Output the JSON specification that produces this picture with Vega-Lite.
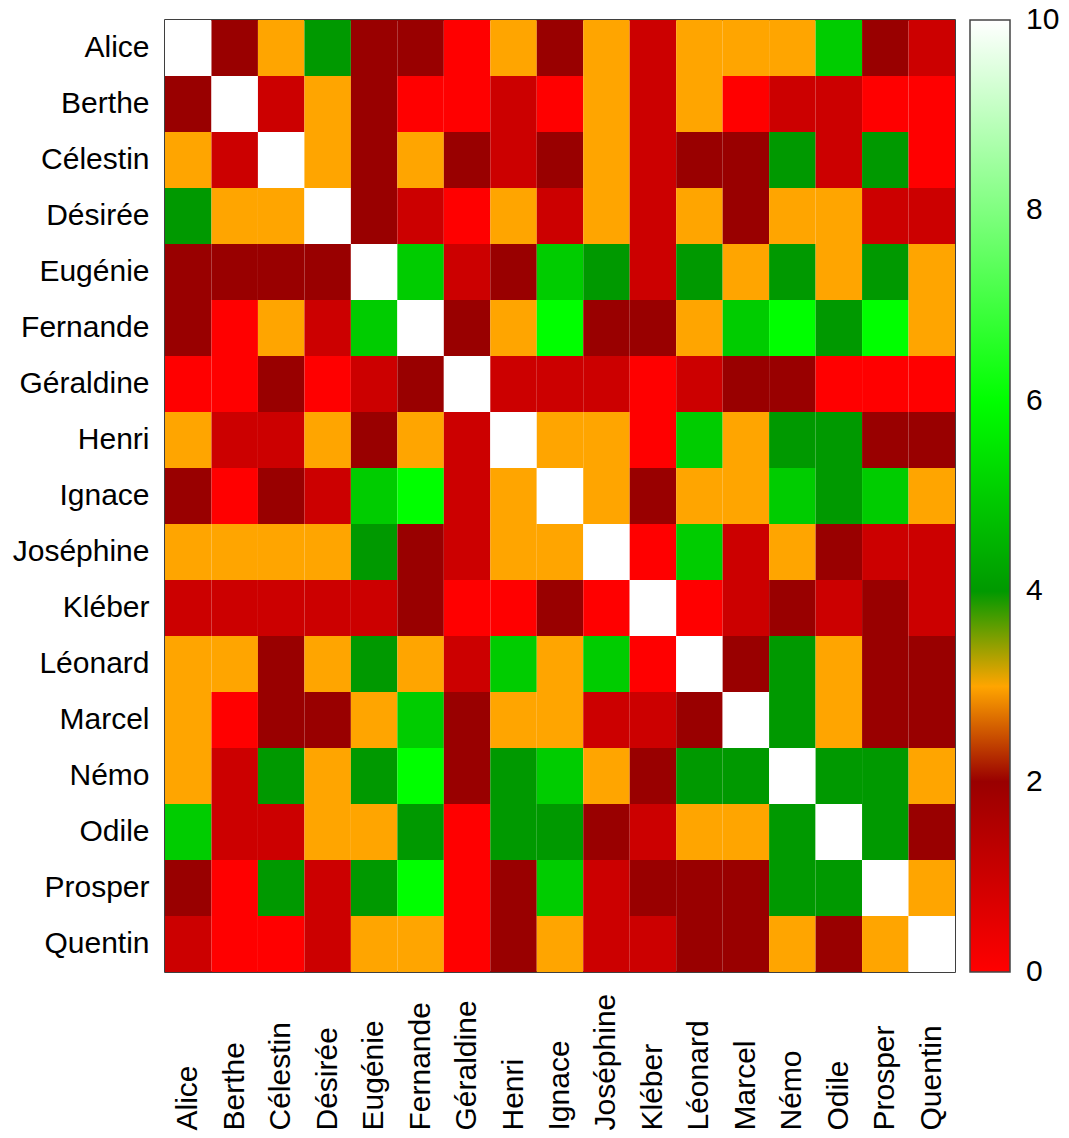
{
  "$schema": "https://vega.github.io/schema/vega-lite/v6.json",
  "autosize": {"type": "none"},
  "padding": {"left": 165, "top": 20, "right": 114, "bottom": 166},
  "width": 790,
  "height": 952,
  "background": "white",
  "config": {
    "font": "Liberation Sans",
    "view": {"stroke": "black", "strokeWidth": 1.5},
    "axis": {"grid": false, "domain": false, "ticks": false, "labelFontSize": 30, "labelColor": "black", "labelFont": "Liberation Sans"},
    "legend": {"labelFontSize": 30, "labelColor": "black", "labelFont": "Liberation Sans"}
  },
  "data": {"values": [
    {"r":"Alice","c":"Alice","v":10},{"r":"Alice","c":"Berthe","v":2},{"r":"Alice","c":"Célestin","v":3},{"r":"Alice","c":"Désirée","v":4},{"r":"Alice","c":"Eugénie","v":2},{"r":"Alice","c":"Fernande","v":2},{"r":"Alice","c":"Géraldine","v":0},{"r":"Alice","c":"Henri","v":3},{"r":"Alice","c":"Ignace","v":2},{"r":"Alice","c":"Joséphine","v":3},{"r":"Alice","c":"Kléber","v":1},{"r":"Alice","c":"Léonard","v":3},{"r":"Alice","c":"Marcel","v":3},{"r":"Alice","c":"Némo","v":3},{"r":"Alice","c":"Odile","v":5},{"r":"Alice","c":"Prosper","v":2},{"r":"Alice","c":"Quentin","v":1},
    {"r":"Berthe","c":"Alice","v":2},{"r":"Berthe","c":"Berthe","v":10},{"r":"Berthe","c":"Célestin","v":1},{"r":"Berthe","c":"Désirée","v":3},{"r":"Berthe","c":"Eugénie","v":2},{"r":"Berthe","c":"Fernande","v":0},{"r":"Berthe","c":"Géraldine","v":0},{"r":"Berthe","c":"Henri","v":1},{"r":"Berthe","c":"Ignace","v":0},{"r":"Berthe","c":"Joséphine","v":3},{"r":"Berthe","c":"Kléber","v":1},{"r":"Berthe","c":"Léonard","v":3},{"r":"Berthe","c":"Marcel","v":0},{"r":"Berthe","c":"Némo","v":1},{"r":"Berthe","c":"Odile","v":1},{"r":"Berthe","c":"Prosper","v":0},{"r":"Berthe","c":"Quentin","v":0},
    {"r":"Célestin","c":"Alice","v":3},{"r":"Célestin","c":"Berthe","v":1},{"r":"Célestin","c":"Célestin","v":10},{"r":"Célestin","c":"Désirée","v":3},{"r":"Célestin","c":"Eugénie","v":2},{"r":"Célestin","c":"Fernande","v":3},{"r":"Célestin","c":"Géraldine","v":2},{"r":"Célestin","c":"Henri","v":1},{"r":"Célestin","c":"Ignace","v":2},{"r":"Célestin","c":"Joséphine","v":3},{"r":"Célestin","c":"Kléber","v":1},{"r":"Célestin","c":"Léonard","v":2},{"r":"Célestin","c":"Marcel","v":2},{"r":"Célestin","c":"Némo","v":4},{"r":"Célestin","c":"Odile","v":1},{"r":"Célestin","c":"Prosper","v":4},{"r":"Célestin","c":"Quentin","v":0},
    {"r":"Désirée","c":"Alice","v":4},{"r":"Désirée","c":"Berthe","v":3},{"r":"Désirée","c":"Célestin","v":3},{"r":"Désirée","c":"Désirée","v":10},{"r":"Désirée","c":"Eugénie","v":2},{"r":"Désirée","c":"Fernande","v":1},{"r":"Désirée","c":"Géraldine","v":0},{"r":"Désirée","c":"Henri","v":3},{"r":"Désirée","c":"Ignace","v":1},{"r":"Désirée","c":"Joséphine","v":3},{"r":"Désirée","c":"Kléber","v":1},{"r":"Désirée","c":"Léonard","v":3},{"r":"Désirée","c":"Marcel","v":2},{"r":"Désirée","c":"Némo","v":3},{"r":"Désirée","c":"Odile","v":3},{"r":"Désirée","c":"Prosper","v":1},{"r":"Désirée","c":"Quentin","v":1},
    {"r":"Eugénie","c":"Alice","v":2},{"r":"Eugénie","c":"Berthe","v":2},{"r":"Eugénie","c":"Célestin","v":2},{"r":"Eugénie","c":"Désirée","v":2},{"r":"Eugénie","c":"Eugénie","v":10},{"r":"Eugénie","c":"Fernande","v":5},{"r":"Eugénie","c":"Géraldine","v":1},{"r":"Eugénie","c":"Henri","v":2},{"r":"Eugénie","c":"Ignace","v":5},{"r":"Eugénie","c":"Joséphine","v":4},{"r":"Eugénie","c":"Kléber","v":1},{"r":"Eugénie","c":"Léonard","v":4},{"r":"Eugénie","c":"Marcel","v":3},{"r":"Eugénie","c":"Némo","v":4},{"r":"Eugénie","c":"Odile","v":3},{"r":"Eugénie","c":"Prosper","v":4},{"r":"Eugénie","c":"Quentin","v":3},
    {"r":"Fernande","c":"Alice","v":2},{"r":"Fernande","c":"Berthe","v":0},{"r":"Fernande","c":"Célestin","v":3},{"r":"Fernande","c":"Désirée","v":1},{"r":"Fernande","c":"Eugénie","v":5},{"r":"Fernande","c":"Fernande","v":10},{"r":"Fernande","c":"Géraldine","v":2},{"r":"Fernande","c":"Henri","v":3},{"r":"Fernande","c":"Ignace","v":6},{"r":"Fernande","c":"Joséphine","v":2},{"r":"Fernande","c":"Kléber","v":2},{"r":"Fernande","c":"Léonard","v":3},{"r":"Fernande","c":"Marcel","v":5},{"r":"Fernande","c":"Némo","v":6},{"r":"Fernande","c":"Odile","v":4},{"r":"Fernande","c":"Prosper","v":6},{"r":"Fernande","c":"Quentin","v":3},
    {"r":"Géraldine","c":"Alice","v":0},{"r":"Géraldine","c":"Berthe","v":0},{"r":"Géraldine","c":"Célestin","v":2},{"r":"Géraldine","c":"Désirée","v":0},{"r":"Géraldine","c":"Eugénie","v":1},{"r":"Géraldine","c":"Fernande","v":2},{"r":"Géraldine","c":"Géraldine","v":10},{"r":"Géraldine","c":"Henri","v":1},{"r":"Géraldine","c":"Ignace","v":1},{"r":"Géraldine","c":"Joséphine","v":1},{"r":"Géraldine","c":"Kléber","v":0},{"r":"Géraldine","c":"Léonard","v":1},{"r":"Géraldine","c":"Marcel","v":2},{"r":"Géraldine","c":"Némo","v":2},{"r":"Géraldine","c":"Odile","v":0},{"r":"Géraldine","c":"Prosper","v":0},{"r":"Géraldine","c":"Quentin","v":0},
    {"r":"Henri","c":"Alice","v":3},{"r":"Henri","c":"Berthe","v":1},{"r":"Henri","c":"Célestin","v":1},{"r":"Henri","c":"Désirée","v":3},{"r":"Henri","c":"Eugénie","v":2},{"r":"Henri","c":"Fernande","v":3},{"r":"Henri","c":"Géraldine","v":1},{"r":"Henri","c":"Henri","v":10},{"r":"Henri","c":"Ignace","v":3},{"r":"Henri","c":"Joséphine","v":3},{"r":"Henri","c":"Kléber","v":0},{"r":"Henri","c":"Léonard","v":5},{"r":"Henri","c":"Marcel","v":3},{"r":"Henri","c":"Némo","v":4},{"r":"Henri","c":"Odile","v":4},{"r":"Henri","c":"Prosper","v":2},{"r":"Henri","c":"Quentin","v":2},
    {"r":"Ignace","c":"Alice","v":2},{"r":"Ignace","c":"Berthe","v":0},{"r":"Ignace","c":"Célestin","v":2},{"r":"Ignace","c":"Désirée","v":1},{"r":"Ignace","c":"Eugénie","v":5},{"r":"Ignace","c":"Fernande","v":6},{"r":"Ignace","c":"Géraldine","v":1},{"r":"Ignace","c":"Henri","v":3},{"r":"Ignace","c":"Ignace","v":10},{"r":"Ignace","c":"Joséphine","v":3},{"r":"Ignace","c":"Kléber","v":2},{"r":"Ignace","c":"Léonard","v":3},{"r":"Ignace","c":"Marcel","v":3},{"r":"Ignace","c":"Némo","v":5},{"r":"Ignace","c":"Odile","v":4},{"r":"Ignace","c":"Prosper","v":5},{"r":"Ignace","c":"Quentin","v":3},
    {"r":"Joséphine","c":"Alice","v":3},{"r":"Joséphine","c":"Berthe","v":3},{"r":"Joséphine","c":"Célestin","v":3},{"r":"Joséphine","c":"Désirée","v":3},{"r":"Joséphine","c":"Eugénie","v":4},{"r":"Joséphine","c":"Fernande","v":2},{"r":"Joséphine","c":"Géraldine","v":1},{"r":"Joséphine","c":"Henri","v":3},{"r":"Joséphine","c":"Ignace","v":3},{"r":"Joséphine","c":"Joséphine","v":10},{"r":"Joséphine","c":"Kléber","v":0},{"r":"Joséphine","c":"Léonard","v":5},{"r":"Joséphine","c":"Marcel","v":1},{"r":"Joséphine","c":"Némo","v":3},{"r":"Joséphine","c":"Odile","v":2},{"r":"Joséphine","c":"Prosper","v":1},{"r":"Joséphine","c":"Quentin","v":1},
    {"r":"Kléber","c":"Alice","v":1},{"r":"Kléber","c":"Berthe","v":1},{"r":"Kléber","c":"Célestin","v":1},{"r":"Kléber","c":"Désirée","v":1},{"r":"Kléber","c":"Eugénie","v":1},{"r":"Kléber","c":"Fernande","v":2},{"r":"Kléber","c":"Géraldine","v":0},{"r":"Kléber","c":"Henri","v":0},{"r":"Kléber","c":"Ignace","v":2},{"r":"Kléber","c":"Joséphine","v":0},{"r":"Kléber","c":"Kléber","v":10},{"r":"Kléber","c":"Léonard","v":0},{"r":"Kléber","c":"Marcel","v":1},{"r":"Kléber","c":"Némo","v":2},{"r":"Kléber","c":"Odile","v":1},{"r":"Kléber","c":"Prosper","v":2},{"r":"Kléber","c":"Quentin","v":1},
    {"r":"Léonard","c":"Alice","v":3},{"r":"Léonard","c":"Berthe","v":3},{"r":"Léonard","c":"Célestin","v":2},{"r":"Léonard","c":"Désirée","v":3},{"r":"Léonard","c":"Eugénie","v":4},{"r":"Léonard","c":"Fernande","v":3},{"r":"Léonard","c":"Géraldine","v":1},{"r":"Léonard","c":"Henri","v":5},{"r":"Léonard","c":"Ignace","v":3},{"r":"Léonard","c":"Joséphine","v":5},{"r":"Léonard","c":"Kléber","v":0},{"r":"Léonard","c":"Léonard","v":10},{"r":"Léonard","c":"Marcel","v":2},{"r":"Léonard","c":"Némo","v":4},{"r":"Léonard","c":"Odile","v":3},{"r":"Léonard","c":"Prosper","v":2},{"r":"Léonard","c":"Quentin","v":2},
    {"r":"Marcel","c":"Alice","v":3},{"r":"Marcel","c":"Berthe","v":0},{"r":"Marcel","c":"Célestin","v":2},{"r":"Marcel","c":"Désirée","v":2},{"r":"Marcel","c":"Eugénie","v":3},{"r":"Marcel","c":"Fernande","v":5},{"r":"Marcel","c":"Géraldine","v":2},{"r":"Marcel","c":"Henri","v":3},{"r":"Marcel","c":"Ignace","v":3},{"r":"Marcel","c":"Joséphine","v":1},{"r":"Marcel","c":"Kléber","v":1},{"r":"Marcel","c":"Léonard","v":2},{"r":"Marcel","c":"Marcel","v":10},{"r":"Marcel","c":"Némo","v":4},{"r":"Marcel","c":"Odile","v":3},{"r":"Marcel","c":"Prosper","v":2},{"r":"Marcel","c":"Quentin","v":2},
    {"r":"Némo","c":"Alice","v":3},{"r":"Némo","c":"Berthe","v":1},{"r":"Némo","c":"Célestin","v":4},{"r":"Némo","c":"Désirée","v":3},{"r":"Némo","c":"Eugénie","v":4},{"r":"Némo","c":"Fernande","v":6},{"r":"Némo","c":"Géraldine","v":2},{"r":"Némo","c":"Henri","v":4},{"r":"Némo","c":"Ignace","v":5},{"r":"Némo","c":"Joséphine","v":3},{"r":"Némo","c":"Kléber","v":2},{"r":"Némo","c":"Léonard","v":4},{"r":"Némo","c":"Marcel","v":4},{"r":"Némo","c":"Némo","v":10},{"r":"Némo","c":"Odile","v":4},{"r":"Némo","c":"Prosper","v":4},{"r":"Némo","c":"Quentin","v":3},
    {"r":"Odile","c":"Alice","v":5},{"r":"Odile","c":"Berthe","v":1},{"r":"Odile","c":"Célestin","v":1},{"r":"Odile","c":"Désirée","v":3},{"r":"Odile","c":"Eugénie","v":3},{"r":"Odile","c":"Fernande","v":4},{"r":"Odile","c":"Géraldine","v":0},{"r":"Odile","c":"Henri","v":4},{"r":"Odile","c":"Ignace","v":4},{"r":"Odile","c":"Joséphine","v":2},{"r":"Odile","c":"Kléber","v":1},{"r":"Odile","c":"Léonard","v":3},{"r":"Odile","c":"Marcel","v":3},{"r":"Odile","c":"Némo","v":4},{"r":"Odile","c":"Odile","v":10},{"r":"Odile","c":"Prosper","v":4},{"r":"Odile","c":"Quentin","v":2},
    {"r":"Prosper","c":"Alice","v":2},{"r":"Prosper","c":"Berthe","v":0},{"r":"Prosper","c":"Célestin","v":4},{"r":"Prosper","c":"Désirée","v":1},{"r":"Prosper","c":"Eugénie","v":4},{"r":"Prosper","c":"Fernande","v":6},{"r":"Prosper","c":"Géraldine","v":0},{"r":"Prosper","c":"Henri","v":2},{"r":"Prosper","c":"Ignace","v":5},{"r":"Prosper","c":"Joséphine","v":1},{"r":"Prosper","c":"Kléber","v":2},{"r":"Prosper","c":"Léonard","v":2},{"r":"Prosper","c":"Marcel","v":2},{"r":"Prosper","c":"Némo","v":4},{"r":"Prosper","c":"Odile","v":4},{"r":"Prosper","c":"Prosper","v":10},{"r":"Prosper","c":"Quentin","v":3},
    {"r":"Quentin","c":"Alice","v":1},{"r":"Quentin","c":"Berthe","v":0},{"r":"Quentin","c":"Célestin","v":0},{"r":"Quentin","c":"Désirée","v":1},{"r":"Quentin","c":"Eugénie","v":3},{"r":"Quentin","c":"Fernande","v":3},{"r":"Quentin","c":"Géraldine","v":0},{"r":"Quentin","c":"Henri","v":2},{"r":"Quentin","c":"Ignace","v":3},{"r":"Quentin","c":"Joséphine","v":1},{"r":"Quentin","c":"Kléber","v":1},{"r":"Quentin","c":"Léonard","v":2},{"r":"Quentin","c":"Marcel","v":2},{"r":"Quentin","c":"Némo","v":3},{"r":"Quentin","c":"Odile","v":2},{"r":"Quentin","c":"Prosper","v":3},{"r":"Quentin","c":"Quentin","v":10}
  ]},
  "mark": {"type": "rect"},
  "encoding": {
    "x": {
      "field": "c", "type": "nominal", "title": null,
      "sort": ["Alice","Berthe","Célestin","Désirée","Eugénie","Fernande","Géraldine","Henri","Ignace","Joséphine","Kléber","Léonard","Marcel","Némo","Odile","Prosper","Quentin"],
      "scale": {"paddingInner": 0, "paddingOuter": 0},
      "axis": {"labelAngle": 270, "labelAlign": "left", "labelBaseline": "middle", "labelPadding": 158}
    },
    "y": {
      "field": "r", "type": "nominal", "title": null,
      "sort": ["Alice","Berthe","Célestin","Désirée","Eugénie","Fernande","Géraldine","Henri","Ignace","Joséphine","Kléber","Léonard","Marcel","Némo","Odile","Prosper","Quentin"],
      "scale": {"paddingInner": 0, "paddingOuter": 0},
      "axis": {"labelPadding": 16}
    },
    "color": {
      "field": "v", "type": "quantitative", "title": null,
      "scale": {"type": "linear", "domain": [0, 2, 3, 4, 6, 10], "range": ["#ff0000", "#990000", "#ffa500", "#009900", "#00ff00", "#ffffff"], "interpolate": "rgb"},
      "legend": {"orient": "right", "direction": "vertical", "gradientLength": 952, "gradientThickness": 40, "offset": 15, "values": [0, 2, 4, 6, 8, 10], "format": "d", "labelOffset": 16, "labelBaseline": "middle", "gradientStrokeColor": "#444444", "gradientStrokeWidth": 1.5, "padding": 0,
        "encode": {"labels": {"update": {"baseline": {"value": "middle"}}}}}
    }
  }
}
